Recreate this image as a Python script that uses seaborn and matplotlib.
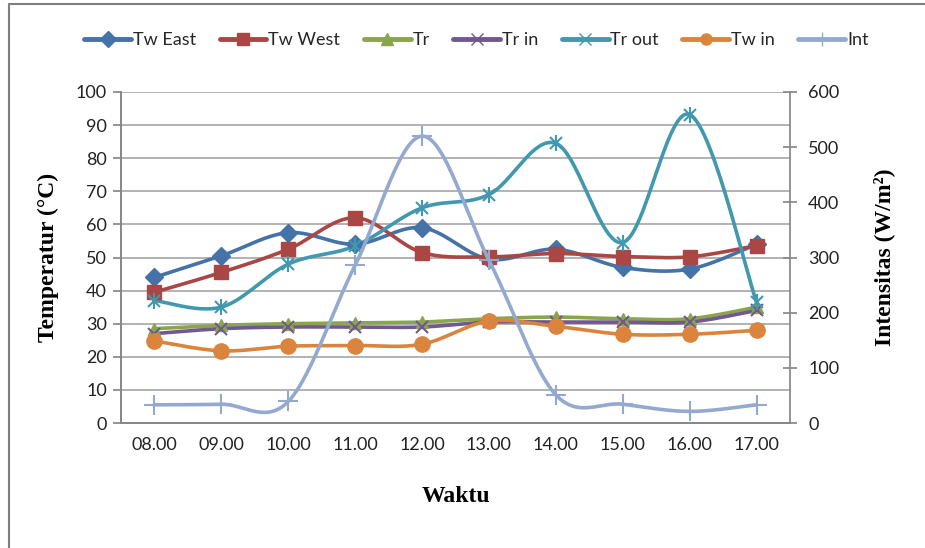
import numpy as np
import pandas as pd
import seaborn as sns
import matplotlib.pyplot as plt
from matplotlib.lines import Line2D

hours = ["08.00", "09.00", "10.00", "11.00", "12.00", "13.00", "14.00", "15.00", "16.00", "17.00"]
tw_east = [44, 50.5, 57.5, 54, 59, 49.5, 52.5, 47, 46.5, 54]
tw_west = [39.5, 45.5, 52.5, 62, 51.5, 50.2, 51.2, 50.3, 50.2, 53.6]
tr = [28.5, 29.5, 30, 30.2, 30.5, 31.5, 32, 31.5, 31.5, 35]
tr_in = [27, 28.5, 29, 29, 29, 30.5, 30.5, 30.5, 30.5, 34]
tr_out = [37, 35, 48, 53.5, 65, 69, 84.5, 54.5, 93.2, 36.5]
tw_in = [24.8, 21.8, 23.2, 23.4, 23.8, 30.8, 29.2, 26.8, 26.8, 28]
intensity = [33, 34, 39, 286, 520, 295, 51, 34, 21, 33]

colors = {
    "Tw East": "#4572A7", "Tw West": "#AA4643", "Tr": "#89A54E", "Tr in": "#71588F",
    "Tr out": "#4198AF", "Tw in": "#DB843D", "Int": "#93A9CF",
}


def smooth(xs, ys, n=30):
    # excel-like smoothed line (catmull-rom bezier)
    xs, ys = np.asarray(xs, float), np.asarray(ys, float)
    px = np.concatenate([[xs[0]], xs, [xs[-1]]])
    py = np.concatenate([[ys[0]], ys, [ys[-1]]])
    outx, outy = [], []
    t = np.linspace(0, 1, n)
    for i in range(1, len(px) - 2):
        p0 = np.array([px[i], py[i]])
        p3 = np.array([px[i + 1], py[i + 1]])
        c1 = p0 + (np.array([px[i + 1], py[i + 1]]) - np.array([px[i - 1], py[i - 1]])) / 6
        c2 = p3 - (np.array([px[i + 2], py[i + 2]]) - np.array([px[i], py[i]])) / 6
        b = ((1 - t) ** 3)[:, None] * p0 + (3 * (1 - t) ** 2 * t)[:, None] * c1 \
            + (3 * (1 - t) * t ** 2)[:, None] * c2 + (t ** 3)[:, None] * p3
        outx.extend(b[:, 0]); outy.extend(b[:, 1])
    return pd.DataFrame({"x": outx, "y": outy})


sns.set_theme(style="white")
plt.rcParams["font.family"] = ["Lato", "DejaVu Sans"]

fig = plt.figure(figsize=(9.25, 5.48), dpi=100)
ax = fig.add_axes([121 / 925, 1 - 423 / 548, (790 - 121) / 925, (423 - 92) / 548])
ax2 = ax.twinx()

x = np.arange(len(hours))
lw = 2.6
series = [
    ("Tw East", tw_east, "D", 9.5), ("Tw West", tw_west, "s", 10), ("Tr", tr, "^", 9),
    ("Tr in", tr_in, "x", 9), ("Tr out", tr_out, "x", 9), ("Tw in", tw_in, "o", 11),
]
for name, vals, mk, ms in series:
    c = colors[name]
    sns.lineplot(data=smooth(x, vals), x="x", y="y", sort=False, ax=ax, color=c, lw=lw, zorder=3)
    mew = 1.5 if mk == "x" else 1
    ax.plot(x, vals, ls="none", marker=mk, ms=ms, color=c, mew=mew, zorder=4)
    if name == "Tr out":
        ax.plot(x, vals, ls="none", marker="|", ms=ms + 2, color=c, mew=1.5, zorder=4)

sns.lineplot(data=smooth(x, intensity), x="x", y="y", sort=False, ax=ax2,
             color=colors["Int"], lw=lw)
ax2.plot(x, intensity, ls="none", marker="+", ms=14, mew=1.5, color=colors["Int"])

ax.set_xlim(-0.5, len(hours) - 0.5)
ax.set_ylim(0, 100)
ax2.set_ylim(0, 600)
ax.set_yticks(range(0, 101, 10))
ax2.set_yticks(range(0, 601, 100))
ax.set_xticks(x)
ax.set_xticklabels(hours)
ax.set_xticks(np.arange(-0.5, len(hours), 1), minor=True)
ax.tick_params(axis="x", which="major", length=0, labelsize=13, pad=10, colors="#222222")
ax.tick_params(axis="x", which="minor", length=10, direction="inout", color="#888888", width=1)
ax.tick_params(axis="y", length=6, direction="out", color="#888888", labelsize=13, pad=4,
               left=True, labelcolor="#222222")
ax2.tick_params(axis="y", length=10, direction="inout", color="#888888", labelsize=13, pad=8,
                right=True, labelcolor="#222222")
ax.yaxis.grid(True, color="#a6a6a6", lw=1.2)
ax.set_axisbelow(True)
for a in (ax, ax2):
    a.spines["top"].set_visible(False)
    a.spines["left"].set_color("#888888")
    a.spines["right"].set_color("#888888")
    a.spines["bottom"].set_color("#888888")
ax.spines["right"].set_visible(False)

lab_font = dict(family="Liberation Serif", weight="bold", size=17, color="black")
ax.set_xlabel("Waktu", labelpad=24, **lab_font)
ax.set_ylabel("Temperatur (°C)", labelpad=12, **lab_font)
ax2.set_ylabel("Intensitas (W/m²)", labelpad=24, **lab_font)

handles = []
for name, vals, mk, ms in series:
    handles.append(Line2D([], [], color=colors[name], lw=3.5, marker=mk, ms=8, mew=1))
handles.append(Line2D([], [], color=colors["Int"], lw=3.5, marker="+", ms=10, mew=1))
names = [s[0] for s in series] + ["Int"]
fig.legend(handles, names, loc="center", bbox_to_anchor=(0.515, 0.927), ncol=7, frameon=False,
           fontsize=13, handlelength=2.6, handletextpad=0.1, columnspacing=1.3)

# chart area border
fig.add_artist(Line2D([9 / 925, 9 / 925], [0, 1 - 4 / 548], color="#7f7f7f", lw=1.5,
                      transform=fig.transFigure))
fig.add_artist(Line2D([9 / 925, 1], [1 - 4 / 548, 1 - 4 / 548], color="#7f7f7f", lw=1.5,
                      transform=fig.transFigure))

fig.savefig("out.png", dpi=100)
